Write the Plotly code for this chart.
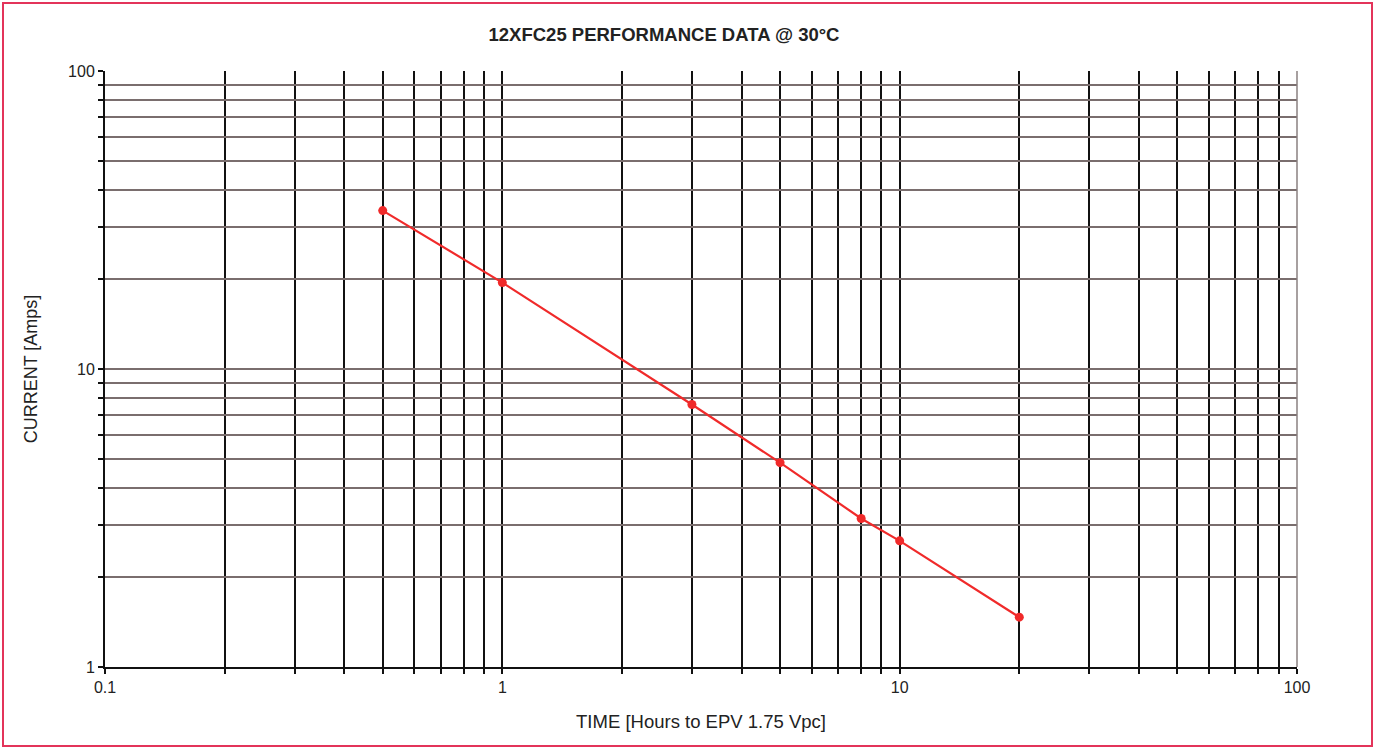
import plotly.graph_objects as go

hours = [0.5, 1, 3, 5, 8, 10, 20]
current = [34, 19.5, 7.6, 4.85, 3.15, 2.65, 1.47]

x_grid = [0.1, 0.2, 0.3, 0.4, 0.5, 0.6, 0.7, 0.8, 0.9,
          1, 2, 3, 4, 5, 6, 7, 8, 9,
          10, 20, 30, 40, 50, 60, 70, 80, 90, 100]
x_labels = ["0.1", "", "", "", "", "", "", "", "",
            "1", "", "", "", "", "", "", "", "",
            "10", "", "", "", "", "", "", "", "", "100"]
y_grid = [1, 2, 3, 4, 5, 6, 7, 8, 9,
          10, 20, 30, 40, 50, 60, 70, 80, 90, 100]
y_labels = ["1", "", "", "", "", "", "", "", "",
            "10", "", "", "", "", "", "", "", "", "100"]

fig = go.Figure()
fig.add_trace(go.Scatter(
    x=hours, y=current, mode="lines+markers",
    line=dict(color="#f02a2a", width=2.2),
    marker=dict(color="#f02a2a", size=9, symbol="circle"),
    showlegend=False,
))

L, R, T, B = 105, 78, 71, 82
W, H = 1375, 749
pw, ph = W - L - R, H - T - B

fig.update_layout(
    width=W, height=H,
    margin=dict(l=L, r=R, t=T, b=B, autoexpand=False),
    paper_bgcolor="white", plot_bgcolor="white",
    font=dict(family="Liberation Sans, Arial, sans-serif", size=16, color="#222"),
    title=dict(text="<b>12XFC25 PERFORMANCE DATA @ 30°C</b>", x=664 / W,
               xanchor="center", y=1 - 35 / H, yanchor="middle",
               font=dict(size=18.5, color="#222")),
    xaxis=dict(type="log", range=[-1, 2], tickvals=x_grid, ticktext=x_labels,
               showgrid=True, gridcolor="#111", gridwidth=2,
               showline=True, linecolor="#111", linewidth=2,
               ticks="outside", ticklen=5, tickcolor="#111", tickwidth=2,
               tickfont=dict(size=16, color="#222"), zeroline=False,
               automargin=False,
               title=dict(text="TIME [Hours to EPV 1.75 Vpc]", font=dict(size=18.5, color="#222"),
                          standoff=20)),
    yaxis=dict(type="log", range=[0, 2], tickvals=y_grid, ticktext=y_labels,
               showgrid=True, gridcolor="#7a6e6e", gridwidth=2,
               showline=True, linecolor="#111", linewidth=2,
               ticks="outside", ticklen=5, tickcolor="#111", tickwidth=2,
               tickfont=dict(size=16, color="#222"), zeroline=False,
               automargin=False,
               title=dict(text="CURRENT [Amps]", font=dict(size=18, color="#222"),
                          standoff=26)),
)

# right edge line
fig.add_shape(type="line", xref="paper", yref="paper", x0=1, x1=1, y0=0, y1=1,
              line=dict(color="#8a8080", width=1.5))
# outer border
fig.add_shape(type="rect", xref="paper", yref="paper",
              x0=(3 - L) / pw, x1=(W - 3 - L) / pw,
              y0=(H - B - (H - 3)) / ph, y1=(H - B - 3) / ph,
              line=dict(color="#e3345a", width=2), layer="above")

fig.write_html("out.html", config={"displayModeBar": False},
               post_script="document.body.style.margin='0';document.body.style.overflow='hidden';")
